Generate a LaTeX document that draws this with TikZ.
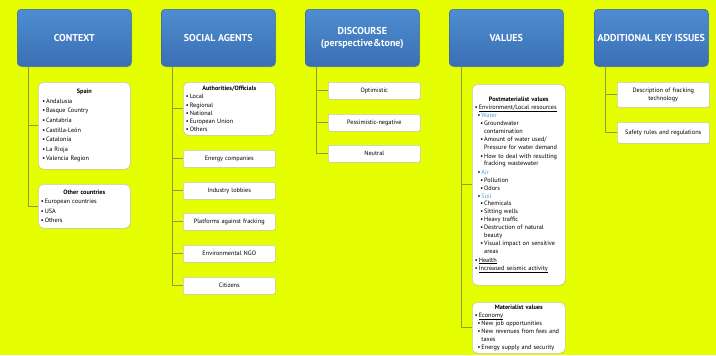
\documentclass[tikz,border=0pt]{standalone}
\usepackage{fontspec}
\setmainfont{PT Sans}
\usetikzlibrary{shadows}

\definecolor{bgyellow}{HTML}{E5FF00}
\definecolor{hdtop}{HTML}{4F8DD2}
\definecolor{hdbot}{HTML}{3A6FB3}
\definecolor{hdline}{HTML}{3466A6}
\definecolor{conline}{HTML}{8E9A46}
\definecolor{subblue}{HTML}{4AA3E6}
\definecolor{boxline}{HTML}{C4C8A8}

% bullets for the lists
\newcommand{\bul}[2][0pt]{\hspace*{#1}\textbullet\,#2}
\newcommand{\cnt}[2][0pt]{\hspace*{#1}\phantom{\textbullet\,}#2}
\newcommand{\ttl}[1]{\hfill\textbf{#1}\hfill\mbox{}}
\newcommand{\uln}[1]{\vtop{\hbox{#1}\kern0.3pt\hrule height 0.25pt}}

\tikzset{
  header/.style={draw=hdline, rounded corners=3pt, top color=hdtop, bottom color=hdbot,
    minimum width=85.5pt, minimum height=42.75pt, anchor=north west, text=white,
    font=\fontsize{7.5}{9}\selectfont\bfseries, align=center, inner sep=1pt,
    drop shadow={opacity=0.25, shadow xshift=0.6pt, shadow yshift=-0.8pt}},
  leaf/.style={draw=boxline, fill=white, rounded corners=1.5pt, text width=65pt,
    inner xsep=2pt, inner ysep=1pt, anchor=north west, align=center,
    font=\fontsize{4.7}{6}\selectfont,
    drop shadow={opacity=0.15, shadow xshift=0.5pt, shadow yshift=-0.6pt}},
  listbox/.style={leaf, rounded corners=4pt, align=left},
  branch/.style={draw=conline, line width=0.6pt},
}

\begin{document}
\begin{tikzpicture}[x=0.75pt, y=-0.75pt]
  % background
  \fill[bgyellow] (0,0) rectangle (716,355);
  \useasboundingbox (0,0) rectangle (716,355);

  % headers
  \node[header] (ctx) at (17,9) {CONTEXT};
  \node[header] (soc) at (161,9) {SOCIAL AGENTS};
  \node[header] (dis) at (305,9) {DISCOURSE\\(perspective\&tone)};
  \node[header] (val) at (449,9) {VALUES};
  \node[header] (add) at (594,9) {ADDITIONAL KEY ISSUES};

  % context
  \node[listbox, minimum height=65.25pt, font=\fontsize{4.7}{7.2}\selectfont] (spain) at (38,82)
    {\ttl{Spain}\\ \bul[1pt]{Andalusia}\\ \bul[1pt]{Basque Country}\\ \bul[1pt]{Cantabria}\\
     \bul[1pt]{Castilla-León}\\ \bul[1pt]{Catalonia}\\ \bul[1pt]{La Rioja}\\ \bul[1pt]{Valencia Region}};
  \node[listbox, minimum height=33pt, font=\fontsize{4.7}{7}\selectfont] (other) at (38,184)
    {\ttl{Other countries}\\ \bul{European countries}\\ \bul{USA}\\ \bul{Others}};

  % social agents
  \node[listbox, minimum height=39.75pt, font=\fontsize{4.7}{6}\selectfont] (auth) at (183,82)
    {\ttl{Authorities/Officials}\\ \bul{Local}\\[1pt] \bul{Regional}\\ \bul{National}\\
     \bul{European Union}\\ \bul{Others}};
  \node[leaf, minimum height=12.75pt] (energy) at (183,150) {Energy companies};
  \node[leaf, minimum height=12.75pt] (lobby) at (183,182) {Industry lobbies};
  \node[leaf, minimum height=12.75pt] (platf) at (183,213) {Platforms against fracking};
  \node[leaf, minimum height=12.75pt] (ngo) at (183,245) {Environmental NGO};
  \node[leaf, minimum height=12.75pt] (citiz) at (183,277) {Citizens};

  % discourse
  \node[leaf, minimum height=12.75pt] (optim) at (328,82) {Optimistic};
  \node[leaf, minimum height=12.75pt] (pessim) at (328,114) {Pessimistic-negative};
  \node[leaf, minimum height=12.75pt] (neutr) at (328,145) {Neutral};

  % values
  \node[listbox, text width=65.75pt, minimum height=150.75pt, font=\fontsize{4.7}{5.9}\selectfont] (postm) at (472,84)
    {\ttl{Postmaterialist values}\\
     \bul{\uln{Environment/Local resources}}\\
     \bul[2pt]{\textcolor{subblue}{Water}}\\
     \bul[4pt]{Groundwater}\\ \cnt[4pt]{contamination}\\[0.5pt]
     \bul[4pt]{Amount of water used/}\\ \cnt[4pt]{Pressure for water demand}\\[0.5pt]
     \bul[4pt]{How to deal with resulting}\\ \cnt[4pt]{fracking wastewater}\\[0.5pt]
     \bul[2pt]{\textcolor{subblue}{Air}}\\
     \bul[4pt]{Pollution}\\ \bul[4pt]{Odors}\\
     \bul[2pt]{\textcolor{subblue}{Soil}}\\
     \bul[4pt]{Chemicals}\\ \bul[4pt]{Sitting wells}\\ \bul[4pt]{Heavy traffic}\\
     \bul[4pt]{Destruction of natural}\\ \cnt[4pt]{beauty}\\[0.5pt]
     \bul[4pt]{Visual impact on sensitive}\\ \cnt[4pt]{areas}\\[0.5pt]
     \bul{\uln{Health}}\\ \bul{\uln{Increased seismic activity}}};
  \node[listbox, text width=65.75pt, minimum height=38.25pt, font=\fontsize{4.7}{5.9}\selectfont] (mater) at (472,302)
    {\ttl{Materialist values}\\
     \bul{\uln{Economy}}\\
     \bul[2pt]{New job opportunities}\\
     \bul[2pt]{New revenues from fees and}\\ \cnt[2pt]{taxes}\\
     \bul[2pt]{Energy supply and security}};

  % additional key issues
  \node[leaf, minimum height=18.75pt] (descr) at (617,82) {Description of fracking\\technology};
  \node[leaf, minimum height=15.75pt] (safety) at (617,122) {Safety rules and regulations};

  % connectors
  \foreach \kid in {spain,other}
    \draw[branch] ([xshift=8.25pt]ctx.south west) |- (\kid.west);
  \foreach \kid in {auth,energy,lobby,platf,ngo,citiz}
    \draw[branch] ([xshift=8.25pt]soc.south west) |- (\kid.west);
  \foreach \kid in {optim,pessim,neutr}
    \draw[branch] ([xshift=8.25pt]dis.south west) |- (\kid.west);
  \foreach \kid in {postm,mater}
    \draw[branch] ([xshift=9pt]val.south west) |- (\kid.west);
  \foreach \kid in {descr,safety}
    \draw[branch] ([xshift=8.25pt]add.south west) |- (\kid.west);
\end{tikzpicture}
\end{document}
